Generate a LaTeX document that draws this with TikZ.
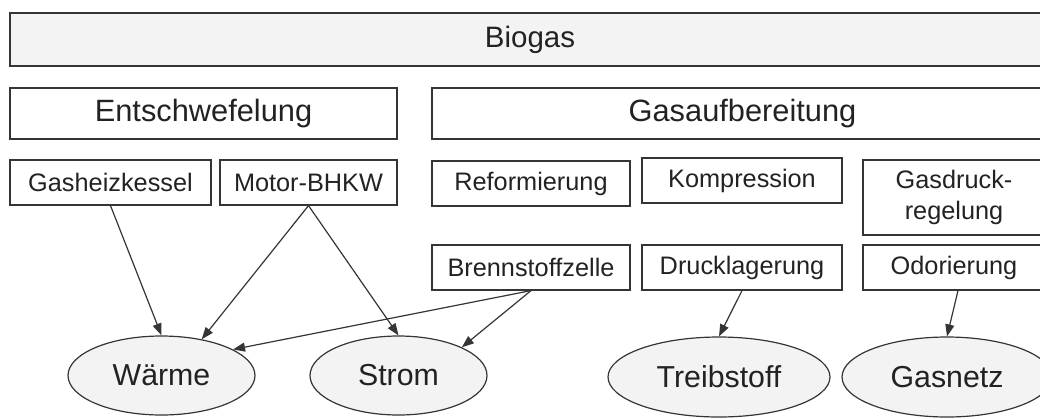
\documentclass[tikz,border=0pt]{standalone}
\usepackage{fontspec}
\setmainfont{Liberation Sans}
\usetikzlibrary{arrows.meta,shapes.geometric}
\definecolor{linegray}{HTML}{353535}
\definecolor{textgray}{HTML}{222222}
\definecolor{fillgray}{HTML}{F3F3F3}
\tikzset{
  bigbox/.style={draw=linegray, line width=1.2pt, rectangle, inner sep=0pt,
    text=textgray, font=\fontsize{30.8}{36}\selectfont},
  smallbox/.style={draw=linegray, line width=1.2pt, rectangle, inner sep=0pt,
    text=textgray, font=\fontsize{25.3}{31}\selectfont, align=center},
  result/.style={draw=linegray, line width=1.2pt, ellipse, inner sep=0pt,
    fill=fillgray, text=textgray, font=\fontsize{30.3}{36}\selectfont},
  flow/.style={draw=linegray, line width=1.2pt,
    -{Triangle[length=12pt,width=9pt]}}
}
\begin{document}
\begin{tikzpicture}[x=1pt,y=-1pt]
\useasboundingbox (0,0) rectangle (1040,418);
\clip (0,0) rectangle (1040,418);
% top level
\node[bigbox, fill=fillgray, minimum width=1040pt, minimum height=53pt,
  font=\fontsize{29.5}{36}\selectfont] (biogas) at (530,39.5) {Biogas};
% second level
\node[bigbox, minimum width=387pt, minimum height=51pt] (entsch) at (203.5,113.5) {Entschwefelung};
\node[bigbox, minimum width=621pt, minimum height=51pt] (aufb) at (742.5,113.5) {Gasaufbereitung};
% third level
\node[smallbox, minimum width=201pt, minimum height=45pt] (gh) at (110.5,182.5) {Gasheizkessel};
\node[smallbox, minimum width=177pt, minimum height=45pt] (mb) at (308.5,182.5) {Motor-BHKW};
\node[smallbox, minimum width=198pt, minimum height=45pt] (ref) at (531,183.5) {Reformierung};
\node[smallbox, minimum width=200pt, minimum height=45pt] (komp) at (742,180.5) {Kompression};
\node[smallbox, minimum width=182pt, minimum height=75pt] (gdr) at (954,197.5) {Gasdruck-\\regelung};
\node[smallbox, minimum width=198pt, minimum height=45pt] (bz) at (531,267.5) {Brennstoffzelle};
\node[smallbox, minimum width=200pt, minimum height=45pt] (dl) at (742,267.5) {Drucklagerung};
\node[smallbox, minimum width=182pt, minimum height=45pt] (odo) at (954,267.5) {Odorierung};
% products
\node[result, minimum width=187pt, minimum height=79pt] (waerme) at (161.5,375.5) {Wärme};
\node[result, minimum width=177pt, minimum height=79pt] (strom) at (398.5,375.5) {Strom};
\node[result, minimum width=222pt, minimum height=80pt] (treib) at (719,377) {Treibstoff};
\node[result, minimum width=210pt, minimum height=80pt] (netz) at (947,377) {Gasnetz};
% connectors
\draw[flow] (gh.south) -- (waerme.north);
\draw[flow] (mb.south) -- (waerme.42);
\draw[flow] (mb.south) -- (strom.north);
\draw[flow] (bz.south) -- (waerme.20);
\draw[flow] (bz.south) -- (strom.24);
\draw[flow] (dl.south) -- (treib.north);
\draw[flow] ([xshift=4pt]odo.south) -- (netz.north);
\end{tikzpicture}
\end{document}
